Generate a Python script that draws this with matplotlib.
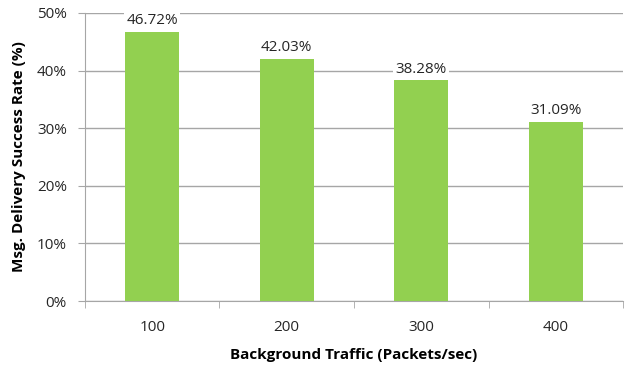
import numpy as np
import matplotlib.pyplot as plt
from matplotlib.ticker import FuncFormatter

plt.rcParams['font.family'] = ['Open Sans', 'DejaVu Sans']

traffic = ['100', '200', '300', '400']
success = [46.72, 42.03, 38.28, 31.09]

fig = plt.figure(figsize=(6.36, 3.67), dpi=100)
ax = fig.add_axes([0.1336, 0.1798, 0.846, 0.785])

x = np.arange(len(traffic))
bars = ax.bar(x, success, width=0.4, color='#92D050', zorder=3)

# value labels sit on a white box so the gridline breaks behind them
for xi, v in zip(x, success):
    ax.annotate(f'{v:.2f}%', (xi, v), xytext=(0, 2.5), textcoords='offset points',
                ha='center', va='bottom', fontsize=11, color='#262626', zorder=4,
                bbox=dict(boxstyle='square,pad=0.15', fc='white', ec='none'))

ax.set_xlim(-0.5, len(traffic) - 0.5)
ax.set_ylim(0, 50)
ax.set_yticks(np.arange(0, 51, 10))
ax.yaxis.set_major_formatter(FuncFormatter(lambda v, p: f'{v:.0f}%'))
ax.set_xticks(x)
ax.set_xticklabels(traffic)
ax.set_xticks(np.arange(-0.5, len(traffic)), minor=True)

ax.grid(axis='y', color='#A6A6A6', linewidth=1, zorder=0)
ax.tick_params(axis='x', which='major', length=0, pad=14, labelsize=11, labelcolor='#262626')
ax.tick_params(axis='x', which='minor', length=5, color='#A6A6A6', direction='out')
ax.tick_params(axis='y', length=5, color='#A6A6A6', pad=8, labelsize=11, labelcolor='#262626')

for s in ['top', 'right']:
    ax.spines[s].set_visible(False)
for s in ['left', 'bottom']:
    ax.spines[s].set_color('#A6A6A6')

ax.set_xlabel('Background Traffic (Packets/sec)', fontsize=11, fontweight='bold', labelpad=9)
ax.set_ylabel('Msg. Delivery Success Rate (%)', fontsize=11, fontweight='bold', labelpad=8)

fig.savefig('out.png', dpi=100)
